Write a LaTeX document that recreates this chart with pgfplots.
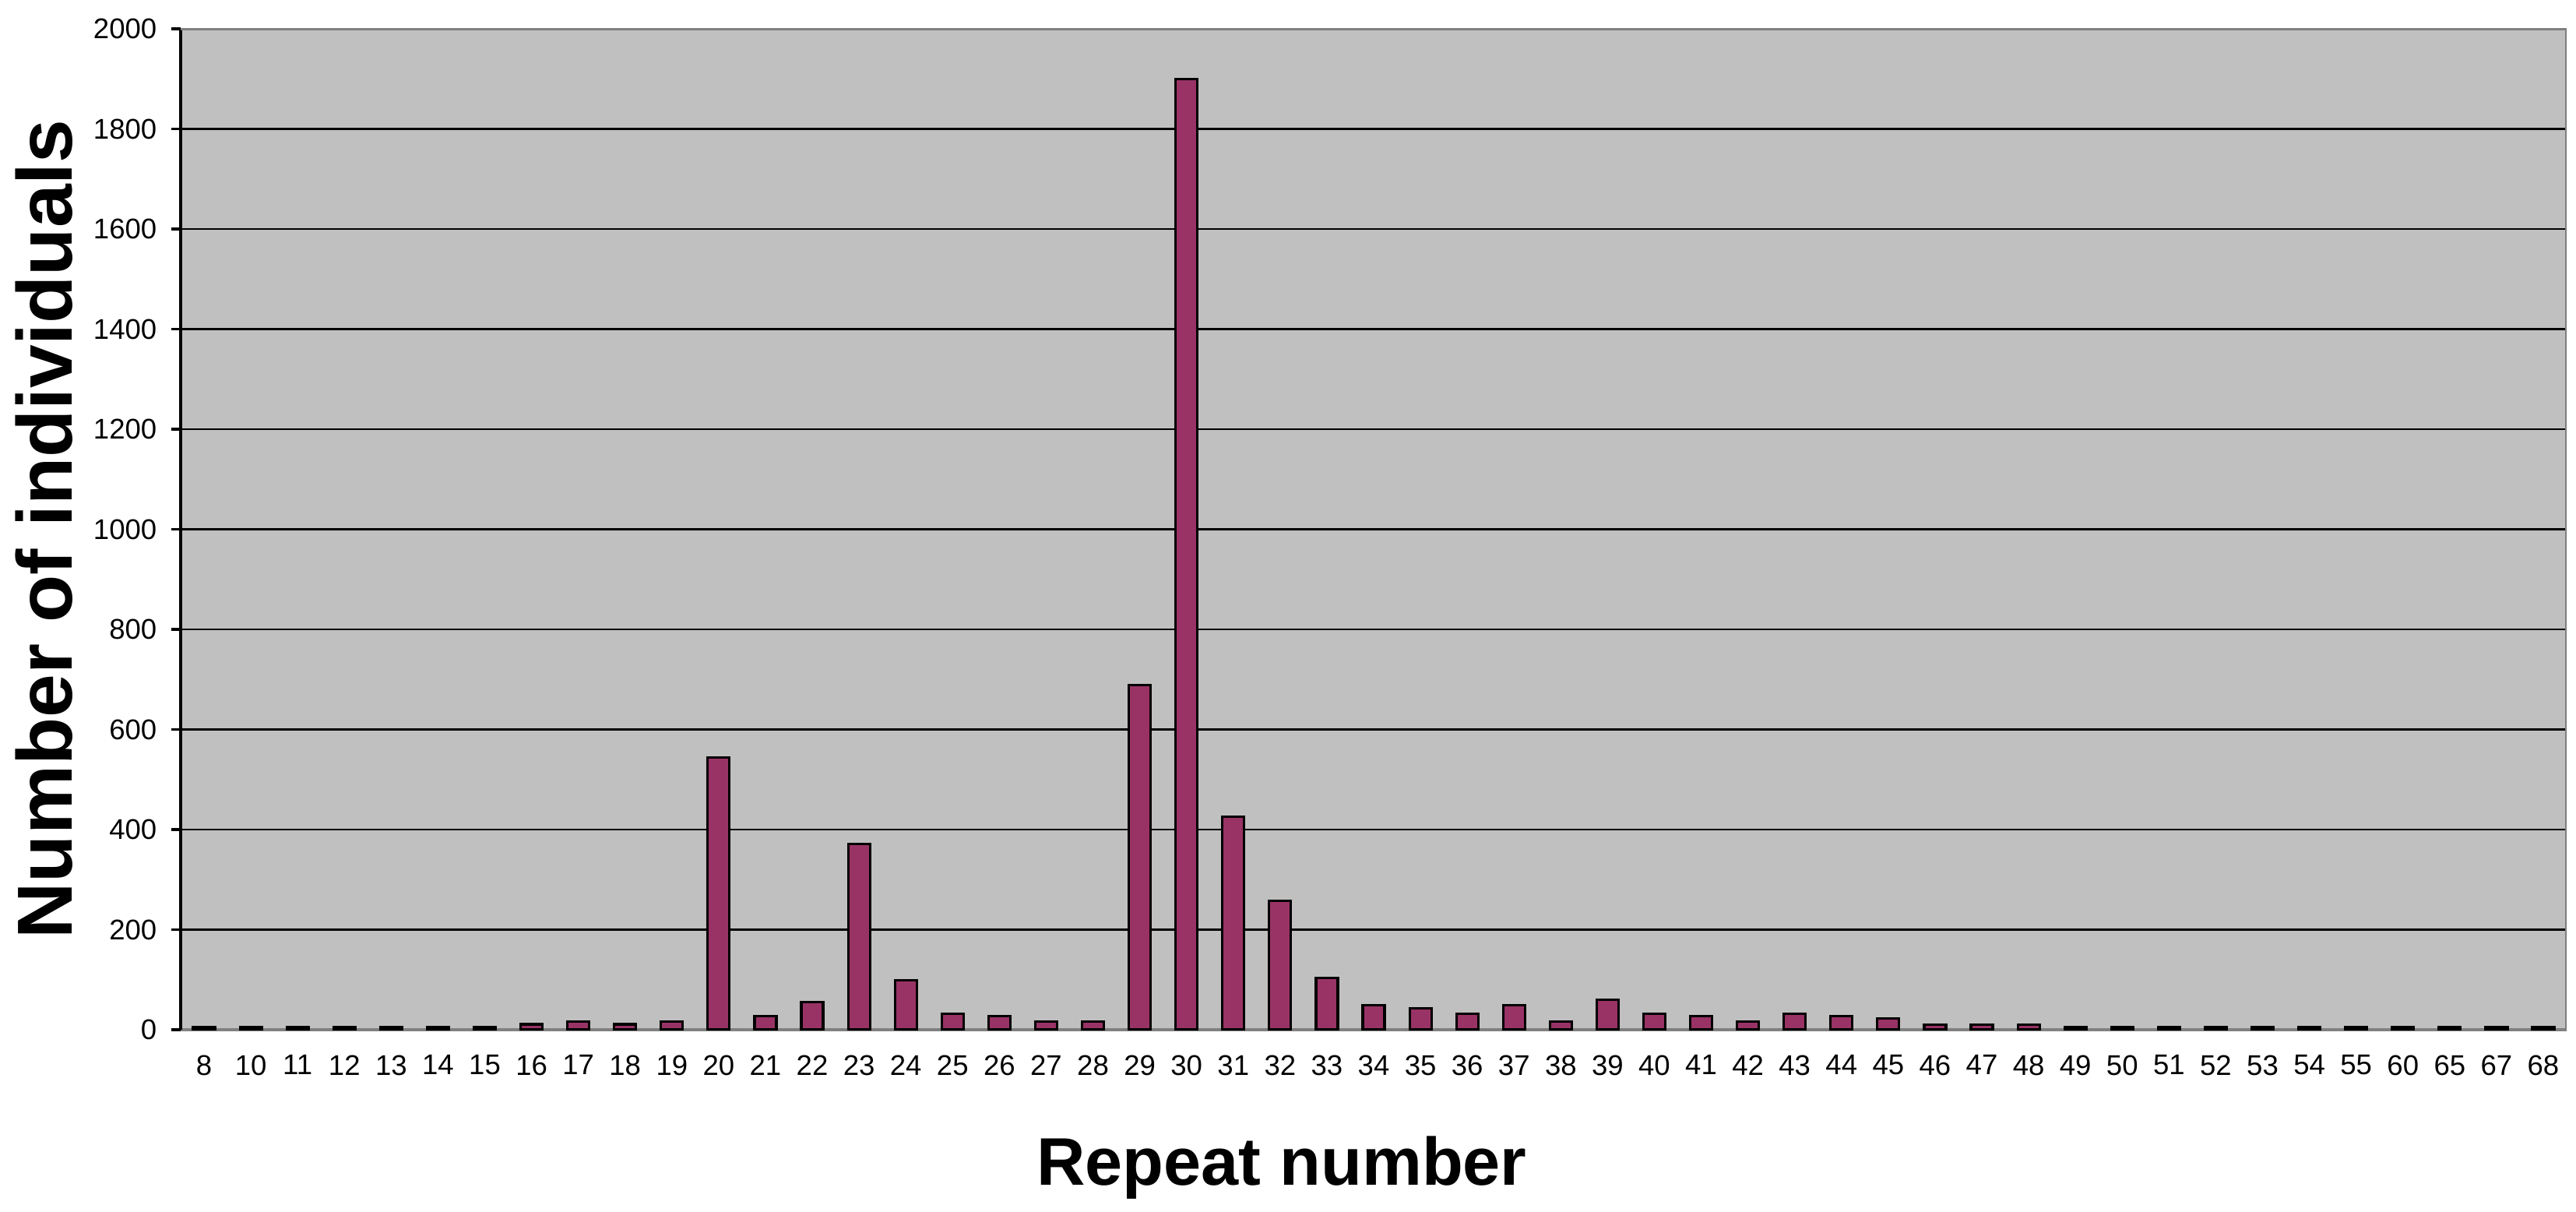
\documentclass[border=0pt]{standalone}
\usepackage{fontspec}
\setmainfont{Liberation Sans}
\usepackage{pgfplots}
\pgfplotsset{compat=1.18}
\definecolor{plum}{HTML}{993366}
\definecolor{bggray}{HTML}{C0C0C0}
\definecolor{edgegray}{HTML}{808080}

\begin{document}
\begin{tikzpicture}
\begin{axis}[
  at={(0,0)}, anchor=south west,
  scale only axis,
  width=30.64cm, height=12.85cm,
  ybar, bar width=0.28cm,
  xmin=-0.5, xmax=50.5, ymin=0, ymax=2000,
  xtick={0,...,50},
  xticklabels={8,10,11,12,13,14,15,16,17,18,19,20,21,22,23,24,25,26,27,28,29,30,31,32,33,34,35,36,37,38,39,40,41,42,43,44,45,46,47,48,49,50,51,52,53,54,55,60,65,67,68},
  ytick={0,200,...,2000},
  axis x line*=bottom, axis y line*=left,
  x axis line style={draw=edgegray, line width=1pt},
  y axis line style={draw=black, line width=1pt},
  xtick style={draw=none},
  ytick style={draw=black, line width=1pt},
  tick align=outside, major tick length=0.12cm,
  ymajorgrids, grid style={black, line width=0.8pt},
  axis background/.style={fill=bggray},
  /pgf/number format/assume math mode=true,
  /pgf/number format/1000 sep={},
  tick label style={font=\fontsize{10.4}{12}\selectfont},
  xticklabel style={anchor=north, inner sep=0pt, yshift=-0.2cm},
  yticklabel style={anchor=east, inner sep=0pt, xshift=-0.18cm},
  xlabel={Repeat number},
  ylabel={Number of individuals},
  xlabel style={font=\bfseries\fontsize{24.6}{29}\selectfont, at={(rel axis cs:0.4615,0)}, anchor=center, yshift=-1.77cm},
  ylabel style={font=\bfseries\fontsize{28.5}{33}\selectfont, at={(rel axis cs:0,0.5)}, anchor=center, rotate=0, yshift=1.75cm},
]
\addplot[fill=plum, draw=black, line width=0.9pt] coordinates {
  (0,5)(1,5)(2,5)(3,5)(4,5)(5,5)(6,5)(7,11)(8,16)(9,11)(10,16)
  (11,544)(12,27)(13,55)(14,371)(15,99)(16,32)(17,27)(18,16)(19,16)
  (20,689)(21,1900)(22,426)(23,258)(24,104)(25,49)(26,43)(27,32)(28,49)
  (29,16)(30,60)(31,32)(32,27)(33,16)(34,32)(35,27)(36,22)(37,10)(38,10)
  (39,10)(40,5)(41,5)(42,5)(43,5)(44,5)(45,5)(46,5)(47,5)(48,5)(49,5)(50,5)
};
\draw[edgegray, line width=1pt] (rel axis cs:0,1) -- (rel axis cs:1,1) -- (rel axis cs:1,0);
\end{axis}
\pgfresetboundingbox
\path[use as bounding box] (-2.32cm,-2.34cm) rectangle (30.76cm,13.22cm);
\end{tikzpicture}
\end{document}
